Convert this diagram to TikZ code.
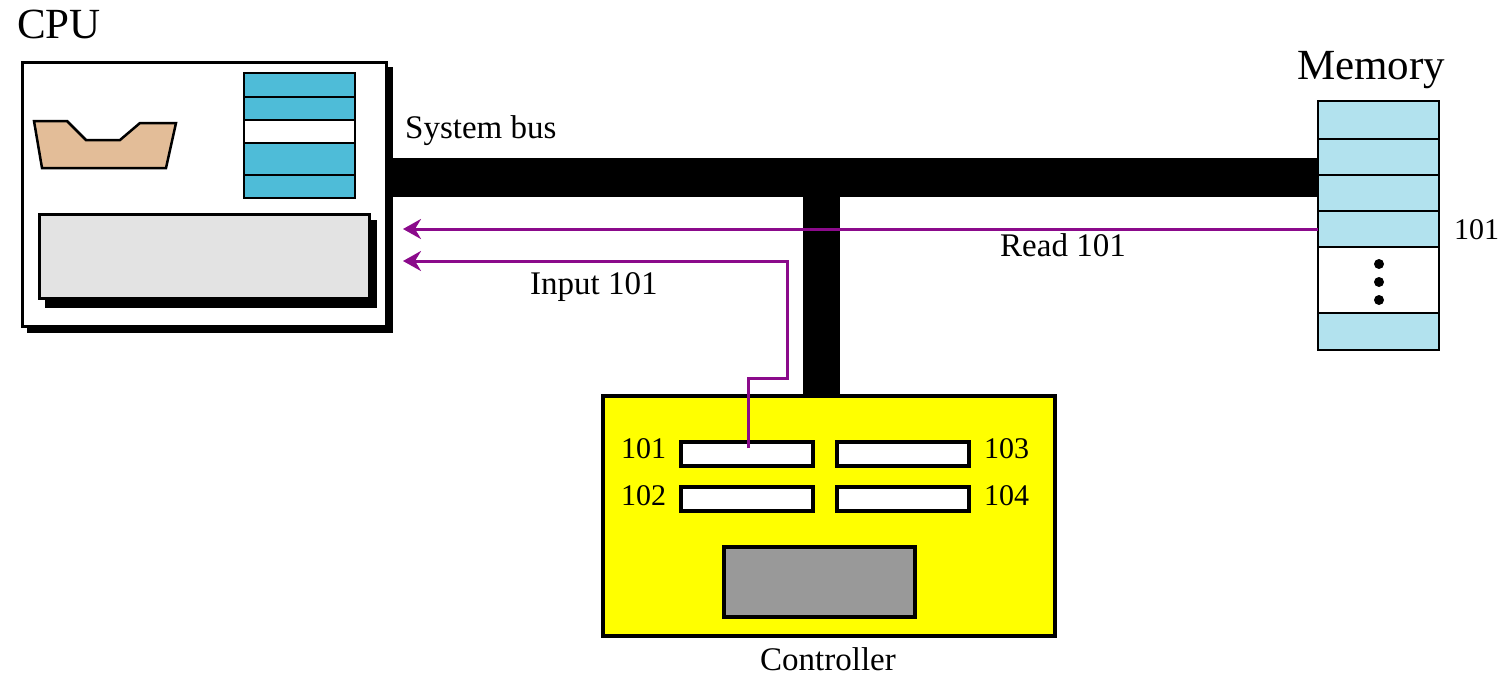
\documentclass[tikz,border=0pt]{standalone}
\usepackage{fontspec}
\setmainfont{Liberation Serif}
\usetikzlibrary{arrows.meta}
\definecolor{tan}{RGB}{227,189,152}
\definecolor{regblue}{RGB}{78,188,216}
\definecolor{memblue}{RGB}{178,226,238}
\definecolor{lgray}{RGB}{227,227,227}
\definecolor{dgray}{RGB}{153,153,153}
\definecolor{sigpurple}{RGB}{139,10,139}
\definecolor{ctrlyellow}{RGB}{255,255,0}
\tikzset{
  big/.style={font=\fontsize{43}{47}\selectfont, inner sep=0pt},
  lbl/.style={font=\fontsize{33}{37}\selectfont, inner sep=0pt},
  num/.style={font=\fontsize{30}{34}\selectfont, inner sep=0pt},
  box/.style={draw=black, line width=2.5pt, inner sep=0pt, anchor=north west},
  shadow/.style={fill=black, draw=none},
  creg/.style={draw=black, fill=white, line width=4pt, minimum width=132pt, minimum height=24pt, inner sep=0pt, anchor=north west},
  memcell/.style={draw=black, line width=2pt, fill=memblue},
  cpureg/.style={draw=black, line width=2pt, fill=regblue},
  signal/.style={draw=sigpurple, line width=3pt, -{Stealth[length=18pt,width=20pt,inset=6pt]}},
  busline/.style={draw=black, line cap=butt}
}
\begin{document}
\begin{tikzpicture}[x=1pt,y=-1pt]
\useasboundingbox (0,0) rectangle (1502,675);

% ---------- CPU ----------
\fill[shadow] (27,67) rectangle (393,333);
\node[box, fill=white, minimum width=364pt, minimum height=264pt] (cpu) at (21,61) {};
\node[big, anchor=base west] (cpulbl) at (17,38) {CPU};
% ALU shape
\filldraw[fill=tan, draw=black, line width=2.5pt]
  (34,121) -- (67,121) -- (86,140) -- (120,140) -- (140,123) -- (176,123) -- (166,168) -- (42,168) -- cycle;
% register stack
\filldraw[cpureg] (244,73) rectangle (355,97);
\filldraw[cpureg] (244,97) rectangle (355,120);
\filldraw[draw=black, line width=2pt, fill=white] (244,120) rectangle (355,143);
\filldraw[cpureg] (244,143) rectangle (355,175);
\filldraw[cpureg] (244,175) rectangle (355,198);
% control unit
\fill[shadow] (45,220) rectangle (377,308);
\node[box, fill=lgray, line width=2.5pt, minimum width=330pt, minimum height=84pt] (cu) at (38,213) {};

% ---------- Memory ----------
\node[big, anchor=base west] (memlbl) at (1297,79) {Memory};
\filldraw[memcell] (1318,101) rectangle (1439,139);
\filldraw[memcell] (1318,139) rectangle (1439,175);
\filldraw[memcell] (1318,175) rectangle (1439,211);
\filldraw[memcell] (1318,211) rectangle (1439,247);
\filldraw[draw=black, line width=2pt, fill=white] (1318,247) rectangle (1439,313);
\filldraw[memcell] (1318,313) rectangle (1439,350);
\node[inner sep=0pt, minimum width=121pt, minimum height=249pt, anchor=north west] (mem) at (1318,101) {};
\coordinate (cell101) at (1318,229);
\fill (1379,264) circle (5pt);
\fill (1379,282) circle (5pt);
\fill (1379,300) circle (5pt);
\node[num, anchor=base west] (memaddr) at (1454,239) {101};

% ---------- Controller ----------
\node[draw=black, line width=4pt, fill=ctrlyellow, minimum width=452pt, minimum height=240pt, inner sep=0pt, anchor=north west] (ctrl) at (601,394) {};
\node[creg] (r101) at (679,440) {};
\node[creg] (r103) at (835,440) {};
\node[creg] (r102) at (679,485) {};
\node[creg] (r104) at (835,485) {};
\node[num, anchor=base west] (l101) at (621,458) {101};
\node[num, anchor=base west] (l103) at (984,458) {103};
\node[num, anchor=base west] (l102) at (621,505) {102};
\node[num, anchor=base west] (l104) at (984,505) {104};
\node[draw=black, line width=4pt, fill=dgray, minimum width=191pt, minimum height=70pt, inner sep=0pt, anchor=north west] (cgray) at (722,545) {};
\node[lbl, anchor=base west] (ctrllbl) at (760,670) {Controller};

% ---------- System bus ----------
\coordinate (busL) at (386,177.5);
\coordinate (busR) at (1318,177.5);
\coordinate (busT) at (821.5,196);
\draw[busline, line width=39pt] (busL) -- (busR);
\draw[busline, line width=37pt] (busT) -- (ctrl.north -| busT);
\node[lbl, anchor=base west] (buslbl) at (405,138) {System bus};

% ---------- Signals ----------
\coordinate (cpuin1) at (403,229);
\coordinate (cpuin2) at (403,261);
\coordinate (rdot) at (748,448);
\draw[signal] (cell101) -- (cpuin1);
\draw[signal, line join=miter] (rdot) -- (748,378) -- (787,378) -- (787,261) -- (cpuin2);
\node[lbl, anchor=base west] (readlbl) at (1000,256) {Read 101};
\node[lbl, anchor=base west] (inlbl) at (530,294) {Input 101};
\end{tikzpicture}
\end{document}
